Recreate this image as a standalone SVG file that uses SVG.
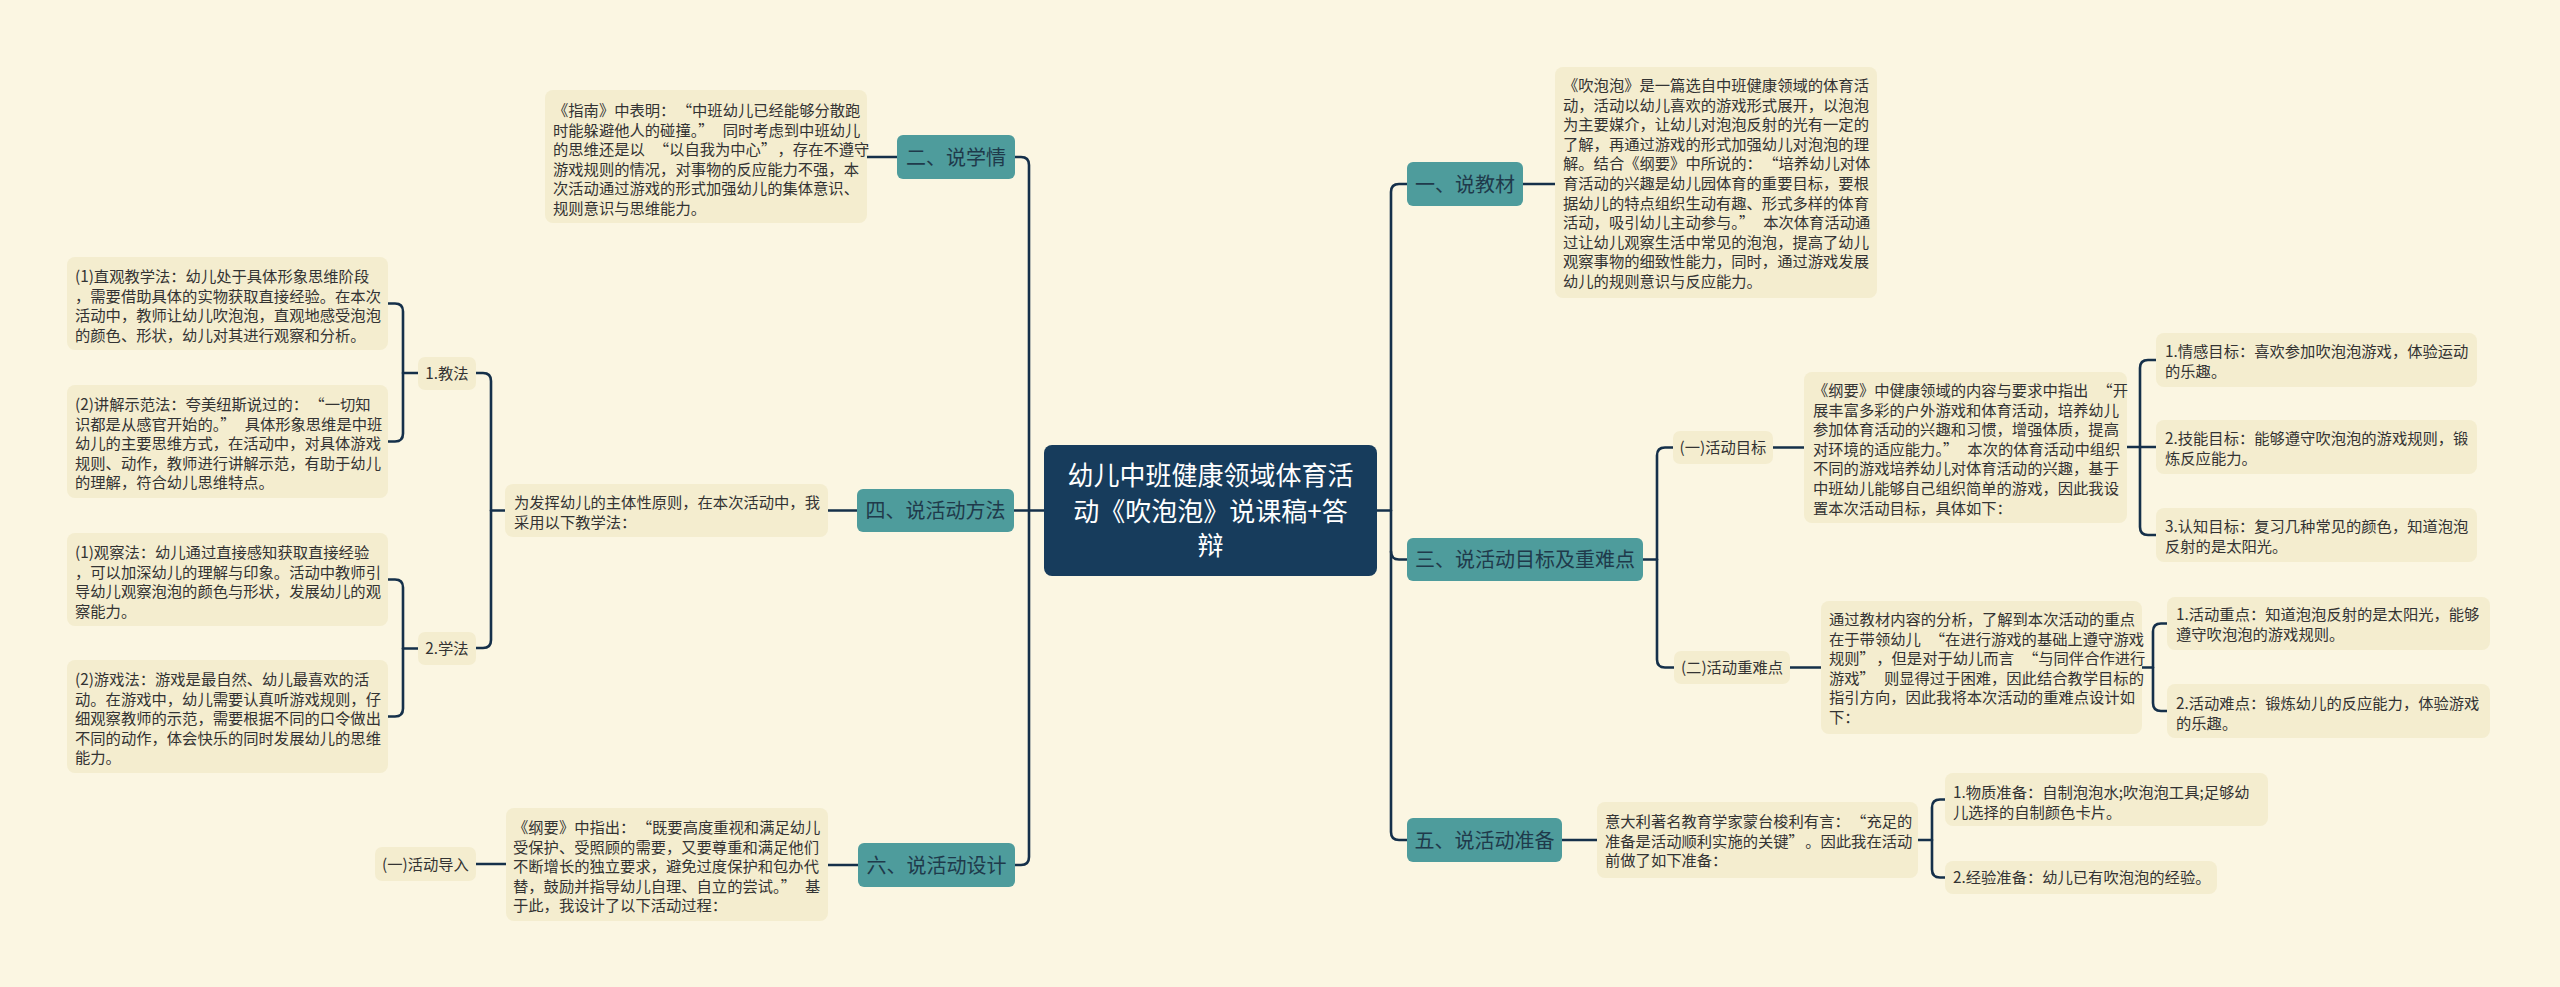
<svg xmlns="http://www.w3.org/2000/svg" width="2560" height="987" viewBox="0 0 2560 987">
<style>
.bg{fill:#fbf6e2}
.c{fill:none;stroke:#15304a;stroke-width:2.6;stroke-linecap:round}
.root{fill:#173c5c}
.rt{fill:#ffffff;font-family:"Noto Sans CJK SC","Noto Sans",sans-serif;font-size:26px;text-anchor:middle}
.n1{fill:#4e9c9c}
.t1{fill:#1f3a4b;font-family:"Noto Sans CJK SC","Noto Sans",sans-serif;font-size:20px;text-anchor:middle}
.box{fill:#f4edcf}
.tx{fill:#333333;font-family:"Noto Sans CJK SC","Noto Sans",sans-serif;font-size:15.3px}
.tm{text-anchor:middle}
</style>
<rect class="bg" x="0" y="0" width="2560" height="987"/>

<g id="connectors">
  <path class="c" d="M1377,510.5 H1391"/>
  <path class="c" d="M1407,184 H1399 Q1391,184 1391,192 V832 Q1391,840 1399,840 H1407"/>
  <path class="c" d="M1391,551.5 Q1391,559.5 1399,559.5 H1407"/>
  <path class="c" d="M1015,157 H1021 Q1029,157 1029,165 V857 Q1029,865 1021,865 H1015"/>
  <path class="c" d="M1044,510.5 H1014"/>
  <path class="c" d="M1523,184 H1555"/>
  <path class="c" d="M1643,559.5 H1657"/>
  <path class="c" d="M1673,447.5 H1665 Q1657,447.5 1657,455.5 V659.5 Q1657,667.5 1665,667.5 H1674"/>
  <path class="c" d="M1773,447.5 H1804"/>
  <path class="c" d="M2127,447 H2156"/>
  <path class="c" d="M2156,360 H2148 Q2140,360 2140,368 V527 Q2140,535 2148,535 H2156"/>
  <path class="c" d="M1790,667.5 H1821"/>
  <path class="c" d="M2142,667.5 H2153"/>
  <path class="c" d="M2167,623.5 H2161 Q2153,623.5 2153,631.5 V703 Q2153,711 2161,711 H2167"/>
  <path class="c" d="M1562,840 H1597"/>
  <path class="c" d="M1918,840 H1932"/>
  <path class="c" d="M1945,799.5 H1940 Q1932,799.5 1932,807.5 V869.5 Q1932,877.5 1940,877.5 H1945"/>
  <path class="c" d="M867,157 H897"/>
  <path class="c" d="M857,510.5 H828"/>
  <path class="c" d="M505,510.5 H491"/>
  <path class="c" d="M476,373 H483 Q491,373 491,381 V640 Q491,648 483,648 H476"/>
  <path class="c" d="M418,373 H403"/>
  <path class="c" d="M388,303.5 H395 Q403,303.5 403,311.5 V433.5 Q403,441.5 395,441.5 H388"/>
  <path class="c" d="M418,648.5 H403"/>
  <path class="c" d="M388,579.5 H395 Q403,579.5 403,587.5 V708.5 Q403,716.5 395,716.5 H388"/>
  <path class="c" d="M858,865 H828"/>
  <path class="c" d="M506,864 H476"/>
</g>

<g id="root">
  <rect class="root" x="1044" y="445" width="333" height="131" rx="8"/>
  <text class="rt" x="1210.5" y="485"><tspan x="1210.5">幼儿中班健康领域体育活</tspan><tspan x="1210.5" dy="35.5">动《吹泡泡》说课稿+答</tspan><tspan x="1210.5" dy="34.5">辩</tspan></text>
</g>

<g id="n-yi">
  <rect class="n1" x="1407" y="162" width="116" height="44" rx="6"/>
  <text class="t1" x="1465" y="191.5">一、说教材</text>
</g>
<g id="n-yi-text">
  <rect class="box" x="1555" y="67" width="322" height="231" rx="8"/>
  <text class="tx" x="1563" y="91"><tspan x="1563">《吹泡泡》是一篇选自中班健康领域的体育活</tspan><tspan x="1563" dy="19.6">动，活动以幼儿喜欢的游戏形式展开，以泡泡</tspan><tspan x="1563" dy="19.6">为主要媒介，让幼儿对泡泡反射的光有一定的</tspan><tspan x="1563" dy="19.6">了解，再通过游戏的形式加强幼儿对泡泡的理</tspan><tspan x="1563" dy="19.6">解。结合《纲要》中所说的：<tspan dx="9">“</tspan>培养幼儿对体</tspan><tspan x="1563" dy="19.6">育活动的兴趣是幼儿园体育的重要目标，要根</tspan><tspan x="1563" dy="19.6">据幼儿的特点组织生动有趣、形式多样的体育</tspan><tspan x="1563" dy="19.6">活动，吸引幼儿主动参与。”<tspan dx="9">本次体育活动通</tspan></tspan><tspan x="1563" dy="19.6">过让幼儿观察生活中常见的泡泡，提高了幼儿</tspan><tspan x="1563" dy="19.6">观察事物的细致性能力，同时，通过游戏发展</tspan><tspan x="1563" dy="19.6">幼儿的规则意识与反应能力。</tspan></text>
</g>

<g id="n-san">
  <rect class="n1" x="1407" y="538" width="236" height="43" rx="6"/>
  <text class="t1" x="1525" y="567">三、说活动目标及重难点</text>
</g>
<g id="n-mubiao">
  <rect class="box" x="1673" y="431" width="100" height="33" rx="7"/>
  <text class="tx tm" x="1723" y="453.3">(一)活动目标</text>
</g>
<g id="n-mubiao-text">
  <rect class="box" x="1804" y="372" width="323" height="151" rx="8"/>
  <text class="tx" x="1813" y="396"><tspan x="1813">《纲要》中健康领域的内容与要求中指出<tspan dx="9">“</tspan>开</tspan><tspan x="1813" dy="19.6">展丰富多彩的户外游戏和体育活动，培养幼儿</tspan><tspan x="1813" dy="19.6">参加体育活动的兴趣和习惯，增强体质，提高</tspan><tspan x="1813" dy="19.6">对环境的适应能力。”<tspan dx="9">本次的体育活动中组织</tspan></tspan><tspan x="1813" dy="19.6">不同的游戏培养幼儿对体育活动的兴趣，基于</tspan><tspan x="1813" dy="19.6">中班幼儿能够自己组织简单的游戏，因此我设</tspan><tspan x="1813" dy="19.6">置本次活动目标，具体如下：</tspan></text>
</g>
<g id="n-goal1">
  <rect class="box" x="2156" y="333" width="321" height="54" rx="8"/>
  <text class="tx" x="2165" y="357"><tspan x="2165">1.情感目标：喜欢参加吹泡泡游戏，体验运动</tspan><tspan x="2165" dy="19.6">的乐趣。</tspan></text>
</g>
<g id="n-goal2">
  <rect class="box" x="2156" y="420" width="321" height="54" rx="8"/>
  <text class="tx" x="2165" y="444"><tspan x="2165">2.技能目标：能够遵守吹泡泡的游戏规则，锻</tspan><tspan x="2165" dy="19.6">炼反应能力。</tspan></text>
</g>
<g id="n-goal3">
  <rect class="box" x="2156" y="508" width="321" height="54" rx="8"/>
  <text class="tx" x="2165" y="532"><tspan x="2165">3.认知目标：复习几种常见的颜色，知道泡泡</tspan><tspan x="2165" dy="19.6">反射的是太阳光。</tspan></text>
</g>
<g id="n-zhongnan">
  <rect class="box" x="1674" y="651" width="116" height="33" rx="7"/>
  <text class="tx tm" x="1732" y="673.3">(二)活动重难点</text>
</g>
<g id="n-zhongnan-text">
  <rect class="box" x="1821" y="601" width="321" height="133" rx="8"/>
  <text class="tx" x="1829" y="625"><tspan x="1829">通过教材内容的分析，了解到本次活动的重点</tspan><tspan x="1829" dy="19.6">在于带领幼儿<tspan dx="9">“</tspan>在进行游戏的基础上遵守游戏</tspan><tspan x="1829" dy="19.6">规则”<tspan dx="9">，但是对于幼儿而言</tspan><tspan dx="9">“</tspan>与同伴合作进行</tspan><tspan x="1829" dy="19.6">游戏”<tspan dx="9">则显得过于困难，因此结合教学目标的</tspan></tspan><tspan x="1829" dy="19.6">指引方向，因此我将本次活动的重难点设计如</tspan><tspan x="1829" dy="19.6">下：</tspan></text>
</g>
<g id="n-zhongdian">
  <rect class="box" x="2167" y="597" width="323" height="53" rx="8"/>
  <text class="tx" x="2176" y="620"><tspan x="2176">1.活动重点：知道泡泡反射的是太阳光，能够</tspan><tspan x="2176" dy="19.6">遵守吹泡泡的游戏规则。</tspan></text>
</g>
<g id="n-nandian">
  <rect class="box" x="2167" y="684" width="323" height="54" rx="8"/>
  <text class="tx" x="2176" y="709"><tspan x="2176">2.活动难点：锻炼幼儿的反应能力，体验游戏</tspan><tspan x="2176" dy="19.6">的乐趣。</tspan></text>
</g>

<g id="n-wu">
  <rect class="n1" x="1407" y="818" width="155" height="44" rx="6"/>
  <text class="t1" x="1484.5" y="847.5">五、说活动准备</text>
</g>
<g id="n-wu-text">
  <rect class="box" x="1597" y="802" width="321" height="76" rx="8"/>
  <text class="tx" x="1605" y="827"><tspan x="1605">意大利著名教育学家蒙台梭利有言：<tspan dx="9">“</tspan>充足的</tspan><tspan x="1605" dy="19.6">准备是活动顺利实施的关键”<tspan dx="9">。因此我在活动</tspan></tspan><tspan x="1605" dy="19.6">前做了如下准备：</tspan></text>
</g>
<g id="n-wuzhi">
  <rect class="box" x="1945" y="773" width="323" height="53" rx="8"/>
  <text class="tx" x="1953" y="798"><tspan x="1953">1.物质准备：自制泡泡水;吹泡泡工具;足够幼</tspan><tspan x="1953" dy="19.6">儿选择的自制颜色卡片。</tspan></text>
</g>
<g id="n-jingyan">
  <rect class="box" x="1945" y="861" width="272" height="33" rx="8"/>
  <text class="tx" x="1953" y="883.3">2.经验准备：幼儿已有吹泡泡的经验。</text>
</g>

<g id="n-er">
  <rect class="n1" x="897" y="135" width="118" height="44" rx="6"/>
  <text class="t1" x="956" y="164.5">二、说学情</text>
</g>
<g id="n-er-text">
  <rect class="box" x="545" y="90" width="322" height="133" rx="8"/>
  <text class="tx" x="553" y="116"><tspan x="553">《指南》中表明：<tspan dx="9">“</tspan>中班幼儿已经能够分散跑</tspan><tspan x="553" dy="19.6">时能躲避他人的碰撞。”<tspan dx="9">同时考虑到中班幼儿</tspan></tspan><tspan x="553" dy="19.6">的思维还是以<tspan dx="9">“</tspan>以自我为中心”<tspan dx="9">，存在不遵守</tspan></tspan><tspan x="553" dy="19.6">游戏规则的情况，对事物的反应能力不强，本</tspan><tspan x="553" dy="19.6">次活动通过游戏的形式加强幼儿的集体意识、</tspan><tspan x="553" dy="19.6">规则意识与思维能力。</tspan></text>
</g>

<g id="n-si">
  <rect class="n1" x="857" y="489" width="157" height="43" rx="6"/>
  <text class="t1" x="935.5" y="518">四、说活动方法</text>
</g>
<g id="n-si-text">
  <rect class="box" x="505" y="484" width="323" height="53" rx="8"/>
  <text class="tx" x="514" y="508"><tspan x="514">为发挥幼儿的主体性原则，在本次活动中，我</tspan><tspan x="514" dy="19.6">采用以下教学法：</tspan></text>
</g>
<g id="n-jiaofa">
  <rect class="box" x="418" y="357" width="58" height="33" rx="7"/>
  <text class="tx tm" x="447" y="379">1.教法</text>
</g>
<g id="n-zhiguan">
  <rect class="box" x="67" y="257" width="321" height="93" rx="8"/>
  <text class="tx" x="75" y="282"><tspan x="75">(1)直观教学法：幼儿处于具体形象思维阶段</tspan><tspan x="75" dy="19.6">，需要借助具体的实物获取直接经验。在本次</tspan><tspan x="75" dy="19.6">活动中，教师让幼儿吹泡泡，直观地感受泡泡</tspan><tspan x="75" dy="19.6">的颜色、形状，幼儿对其进行观察和分析。</tspan></text>
</g>
<g id="n-jiangjie">
  <rect class="box" x="67" y="385" width="321" height="113" rx="8"/>
  <text class="tx" x="75" y="410"><tspan x="75">(2)讲解示范法：夸美纽斯说过的：<tspan dx="9">“</tspan>一切知</tspan><tspan x="75" dy="19.6">识都是从感官开始的。”<tspan dx="9">具体形象思维是中班</tspan></tspan><tspan x="75" dy="19.6">幼儿的主要思维方式，在活动中，对具体游戏</tspan><tspan x="75" dy="19.6">规则、动作，教师进行讲解示范，有助于幼儿</tspan><tspan x="75" dy="19.6">的理解，符合幼儿思维特点。</tspan></text>
</g>
<g id="n-xuefa">
  <rect class="box" x="418" y="632" width="58" height="33" rx="7"/>
  <text class="tx tm" x="447" y="654">2.学法</text>
</g>
<g id="n-guancha">
  <rect class="box" x="67" y="533" width="321" height="93" rx="8"/>
  <text class="tx" x="75" y="558"><tspan x="75">(1)观察法：幼儿通过直接感知获取直接经验</tspan><tspan x="75" dy="19.6">，可以加深幼儿的理解与印象。活动中教师引</tspan><tspan x="75" dy="19.6">导幼儿观察泡泡的颜色与形状，发展幼儿的观</tspan><tspan x="75" dy="19.6">察能力。</tspan></text>
</g>
<g id="n-youxi">
  <rect class="box" x="67" y="660" width="321" height="113" rx="8"/>
  <text class="tx" x="75" y="685"><tspan x="75">(2)游戏法：游戏是最自然、幼儿最喜欢的活</tspan><tspan x="75" dy="19.6">动。在游戏中，幼儿需要认真听游戏规则，仔</tspan><tspan x="75" dy="19.6">细观察教师的示范，需要根据不同的口令做出</tspan><tspan x="75" dy="19.6">不同的动作，体会快乐的同时发展幼儿的思维</tspan><tspan x="75" dy="19.6">能力。</tspan></text>
</g>

<g id="n-liu">
  <rect class="n1" x="858" y="843" width="157" height="44" rx="6"/>
  <text class="t1" x="936.5" y="872.5">六、说活动设计</text>
</g>
<g id="n-liu-text">
  <rect class="box" x="506" y="808" width="322" height="113" rx="8"/>
  <text class="tx" x="513" y="833"><tspan x="513">《纲要》中指出：<tspan dx="9">“</tspan>既要高度重视和满足幼儿</tspan><tspan x="513" dy="19.6">受保护、受照顾的需要，又要尊重和满足他们</tspan><tspan x="513" dy="19.6">不断增长的独立要求，避免过度保护和包办代</tspan><tspan x="513" dy="19.6">替，鼓励并指导幼儿自理、自立的尝试。”<tspan dx="9">基</tspan></tspan><tspan x="513" dy="19.6">于此，我设计了以下活动过程：</tspan></text>
</g>
<g id="n-daoru">
  <rect class="box" x="375" y="847" width="101" height="34" rx="7"/>
  <text class="tx tm" x="425.5" y="870">(一)活动导入</text>
</g>
</svg>
